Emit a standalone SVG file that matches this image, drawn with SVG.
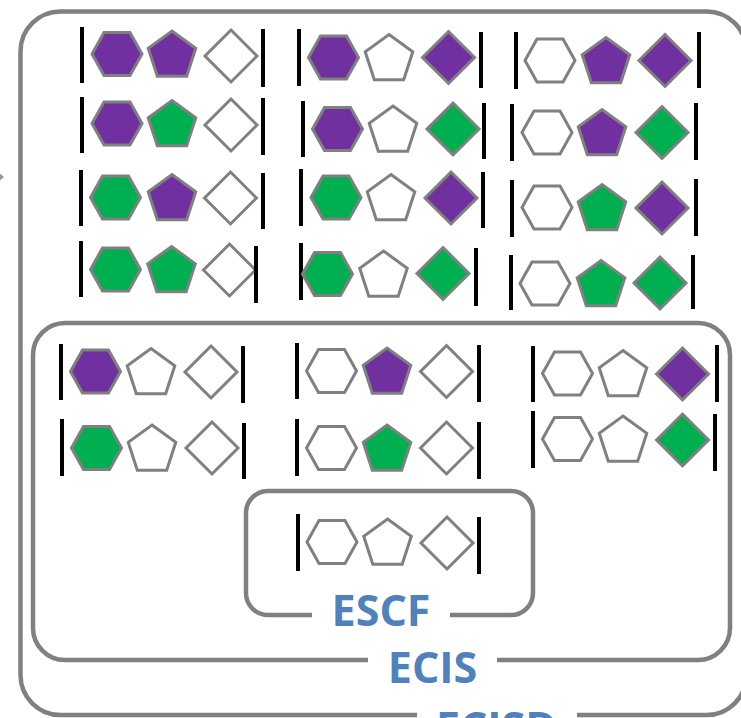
<svg xmlns="http://www.w3.org/2000/svg" xmlns:xlink="http://www.w3.org/1999/xlink" width="741" height="718" viewBox="0 0 741 718">
<style>
.box{fill:none;stroke:#808080;stroke-width:4.5}
.gap{fill:#fff;stroke:none}
.lbl{font-family:"Open Sans","Noto Sans","DejaVu Sans",sans-serif;font-weight:bold;font-size:43px;fill:#4F81BD;text-anchor:middle}
.bar{stroke:#000;stroke-width:4}
.sh{stroke:#808080;stroke-width:3;stroke-linejoin:miter}
.P{fill:#7030A0}
.G{fill:#00B050}
.W{fill:#fff}
</style>
<defs>
<polygon id="hx" points="-25,0 -13,-21.5 13,-21.5 25,0 13,21.5 -13,21.5"/>
<polygon id="pn" points="0,-25 23.78,-7.73 14.69,20.23 -14.69,20.23 -23.78,-7.73"/>
<polygon id="dm" points="0,-26 26,0 0,26 -26,0"/>
</defs>
<rect width="741" height="718" fill="#fff"/>
<g id="ECISD">
<rect class="box" x="20.5" y="11.5" width="726" height="703.5" rx="40"/>
<rect class="gap" x="417" y="705" width="160" height="20"/>
<text class="lbl" x="496.5" y="743">ECISD</text>
</g>
<g id="ECIS">
<rect class="box" x="33" y="323" width="697" height="337" rx="32"/>
<rect class="gap" x="368" y="652" width="129" height="16"/>
<text class="lbl" x="432.5" y="683">ECIS</text>
</g>
<g id="ESCF">
<rect class="box" x="246" y="491" width="287" height="124" rx="22"/>
<rect class="gap" x="312" y="607" width="138" height="16"/>
<text class="lbl" x="381" y="626">ESCF</text>
</g>
<g id="connectors">
<polygon points="0,173.5 4,177 0,180.5" fill="#999"/>
</g>
<g id="c1r1"><line class="bar" x1="82" y1="27" x2="82" y2="83"/><use href="#hx" x="117" y="54" class="sh P"/><use href="#pn" x="172" y="56" class="sh P"/><use href="#dm" x="231" y="56" class="sh W"/><line class="bar" x1="263" y1="29" x2="263" y2="87"/></g>
<g id="c1r2"><line class="bar" x1="82" y1="97" x2="82" y2="153"/><use href="#hx" x="117" y="123.5" class="sh P"/><use href="#pn" x="172" y="125.5" class="sh G"/><use href="#dm" x="231" y="125" class="sh W"/><line class="bar" x1="263" y1="98" x2="263" y2="155"/></g>
<g id="c1r3"><line class="bar" x1="81" y1="170" x2="81" y2="226"/><use href="#hx" x="115.5" y="197.5" class="sh G"/><use href="#pn" x="172" y="199.5" class="sh P"/><use href="#dm" x="230.5" y="198" class="sh W"/><line class="bar" x1="263" y1="173" x2="263" y2="229"/></g>
<g id="c1r4"><line class="bar" x1="81" y1="241" x2="81" y2="297"/><use href="#hx" x="115.5" y="269.5" class="sh G"/><use href="#pn" x="171.5" y="271.5" class="sh G"/><use href="#dm" x="229.5" y="270" class="sh W"/><line class="bar" x1="256" y1="246" x2="256" y2="303"/></g>
<g id="c2r1"><line class="bar" x1="299" y1="29" x2="299" y2="86"/><use href="#hx" x="333.5" y="57.5" class="sh P"/><use href="#pn" x="389" y="59.5" class="sh W"/><use href="#dm" x="448.5" y="57.5" class="sh P"/><line class="bar" x1="481" y1="32" x2="481" y2="88"/></g>
<g id="c2r2"><line class="bar" x1="303" y1="101" x2="303" y2="157"/><use href="#hx" x="337.5" y="129" class="sh P"/><use href="#pn" x="393" y="131" class="sh W"/><use href="#dm" x="453" y="129" class="sh G"/><line class="bar" x1="484" y1="103" x2="484" y2="159"/></g>
<g id="c2r3"><line class="bar" x1="301" y1="169" x2="301" y2="226"/><use href="#hx" x="336" y="197.5" class="sh G"/><use href="#pn" x="391" y="199.5" class="sh W"/><use href="#dm" x="451" y="198" class="sh P"/><line class="bar" x1="483" y1="172" x2="483" y2="228"/></g>
<g id="c2r4"><line class="bar" x1="301" y1="243" x2="301" y2="300"/><use href="#hx" x="327.5" y="274" class="sh G"/><use href="#pn" x="383.5" y="276" class="sh W"/><use href="#dm" x="443" y="273.5" class="sh G"/><line class="bar" x1="476" y1="248" x2="476" y2="306"/></g>
<g id="c3r1"><line class="bar" x1="516" y1="32" x2="516" y2="89"/><use href="#hx" x="550" y="60.5" class="sh W"/><use href="#pn" x="606" y="62.5" class="sh P"/><use href="#dm" x="665" y="60.5" class="sh P"/><line class="bar" x1="699" y1="32" x2="699" y2="88"/></g>
<g id="c3r2"><line class="bar" x1="512" y1="104" x2="512" y2="161"/><use href="#hx" x="547" y="132.5" class="sh W"/><use href="#pn" x="602" y="134.5" class="sh P"/><use href="#dm" x="662" y="132.5" class="sh G"/><line class="bar" x1="696" y1="103" x2="696" y2="160"/></g>
<g id="c3r3"><line class="bar" x1="512" y1="180" x2="512" y2="237"/><use href="#hx" x="547" y="207.5" class="sh W"/><use href="#pn" x="602" y="209.5" class="sh G"/><use href="#dm" x="662" y="208" class="sh P"/><line class="bar" x1="696" y1="179" x2="696" y2="236"/></g>
<g id="c3r4"><line class="bar" x1="511" y1="255" x2="511" y2="310"/><use href="#hx" x="545" y="283.5" class="sh W"/><use href="#pn" x="601" y="285.5" class="sh G"/><use href="#dm" x="660" y="283" class="sh G"/><line class="bar" x1="693" y1="255" x2="693" y2="309"/></g>
<g id="a1"><line class="bar" x1="61" y1="344" x2="61" y2="400"/><use href="#hx" x="95.5" y="371.5" class="sh P"/><use href="#pn" x="151" y="373.5" class="sh W"/><use href="#dm" x="211" y="372" class="sh W"/><line class="bar" x1="243" y1="346" x2="243" y2="403"/></g>
<g id="a2"><line class="bar" x1="62" y1="419" x2="62" y2="476"/><use href="#hx" x="96.5" y="448" class="sh G"/><use href="#pn" x="152" y="450" class="sh W"/><use href="#dm" x="212" y="448" class="sh W"/><line class="bar" x1="244" y1="423" x2="244" y2="479"/></g>
<g id="b1"><line class="bar" x1="297" y1="343" x2="297" y2="399"/><use href="#hx" x="331.5" y="371" class="sh W"/><use href="#pn" x="387" y="373" class="sh P"/><use href="#dm" x="446.5" y="371.5" class="sh W"/><line class="bar" x1="479" y1="345" x2="479" y2="402"/></g>
<g id="b2"><line class="bar" x1="297" y1="419" x2="297" y2="476"/><use href="#hx" x="331.5" y="448" class="sh W"/><use href="#pn" x="387" y="450" class="sh G"/><use href="#dm" x="446.5" y="448" class="sh W"/><line class="bar" x1="479" y1="422" x2="479" y2="479"/></g>
<g id="c1"><line class="bar" x1="533" y1="346" x2="533" y2="402"/><use href="#hx" x="567.5" y="373.5" class="sh W"/><use href="#pn" x="623" y="375.5" class="sh W"/><use href="#dm" x="682.5" y="374" class="sh P"/><line class="bar" x1="717" y1="345" x2="717" y2="402"/></g>
<g id="c2"><line class="bar" x1="533" y1="411" x2="533" y2="468"/><use href="#hx" x="567.5" y="439" class="sh W"/><use href="#pn" x="623" y="441" class="sh W"/><use href="#dm" x="682.5" y="440" class="sh G"/><line class="bar" x1="715" y1="414" x2="715" y2="471"/></g>
<g id="e1"><line class="bar" x1="298" y1="514" x2="298" y2="571"/><use href="#hx" x="332" y="542" class="sh W"/><use href="#pn" x="387.5" y="544" class="sh W"/><use href="#dm" x="447" y="543" class="sh W"/><line class="bar" x1="479" y1="517" x2="479" y2="574"/></g>
</svg>
